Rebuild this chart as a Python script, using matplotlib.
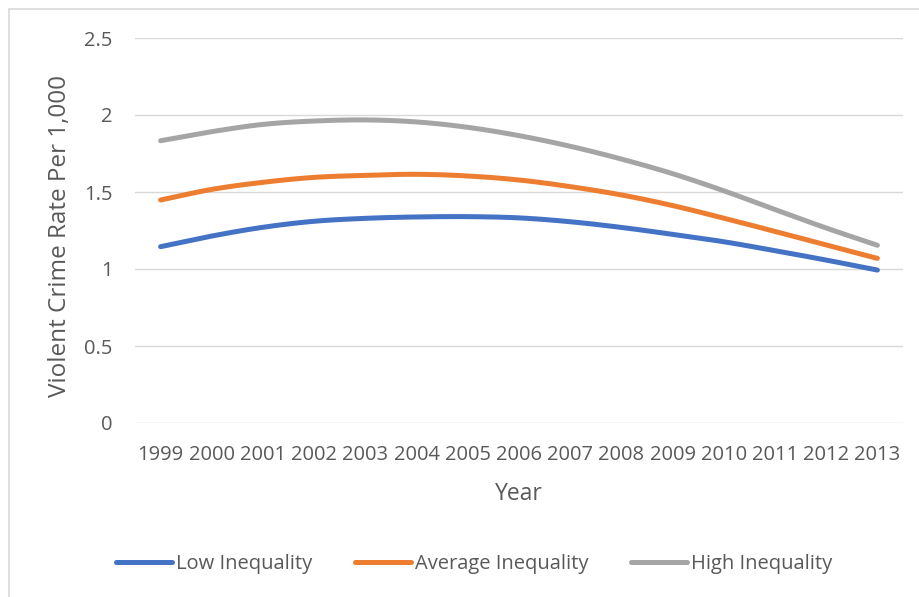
import numpy as np
import matplotlib.pyplot as plt
from matplotlib.patches import Rectangle
from matplotlib.ticker import FuncFormatter

years = [1999, 2000, 2001, 2002, 2003, 2004, 2005, 2006,
         2007, 2008, 2009, 2010, 2011, 2012, 2013]

low_ineq = [1.145, 1.214, 1.271, 1.310, 1.329, 1.338, 1.340, 1.332,
            1.307, 1.270, 1.225, 1.177, 1.119, 1.058, 0.993]
avg_ineq = [1.448, 1.517, 1.563, 1.595, 1.608, 1.615, 1.604, 1.578,
            1.535, 1.481, 1.412, 1.330, 1.244, 1.156, 1.069]
high_ineq = [1.833, 1.892, 1.939, 1.961, 1.968, 1.955, 1.920, 1.866,
             1.797, 1.714, 1.619, 1.508, 1.386, 1.266, 1.154]

series = [
    ("Low Inequality", low_ineq, "#4472C4"),
    ("Average Inequality", avg_ineq, "#ED7D31"),
    ("High Inequality", high_ineq, "#A5A5A5"),
]

TEXT = "#595959"
GRID = "#D9D9D9"
plt.rcParams["font.family"] = ["Open Sans", "DejaVu Sans"]


def smooth(x, y, steps=16):
    # Catmull-Rom curve through the points (same look as a smoothed office line)
    x = np.asarray(x, float)
    y = np.asarray(y, float)
    px = np.concatenate([[2 * x[0] - x[1]], x, [2 * x[-1] - x[-2]]])
    py = np.concatenate([[2 * y[0] - y[1]], y, [2 * y[-1] - y[-2]]])
    t = np.linspace(0, 1, steps, endpoint=False)
    xs, ys = [], []
    for i in range(1, len(px) - 2):
        for p, out in ((px, xs), (py, ys)):
            p0, p1, p2, p3 = p[i - 1], p[i], p[i + 1], p[i + 2]
            out.extend(0.5 * (2 * p1 + (-p0 + p2) * t
                              + (2 * p0 - 5 * p1 + 4 * p2 - p3) * t ** 2
                              + (-p0 + 3 * p1 - 3 * p2 + p3) * t ** 3))
    xs.append(x[-1])
    ys.append(y[-1])
    return np.array(xs), np.array(ys)


fig = plt.figure(figsize=(9.19, 5.97), dpi=100)
ax = fig.add_axes([135 / 919, 1 - 423 / 597, 768 / 919, 385 / 597])

idx = np.arange(len(years))
for name, vals, color in series:
    sx, sy = smooth(idx, vals)
    ax.plot(sx, sy, color=color, lw=3.6, solid_capstyle="round", label=name)

ax.set_xlim(-0.5, len(years) - 0.5)
ax.set_ylim(0, 2.5)
ax.set_yticks(np.arange(0, 2.51, 0.5))
ax.yaxis.set_major_formatter(FuncFormatter(lambda v, _: f"{v:g}"))
ax.set_xticks(idx)
ax.set_xticklabels([str(y) for y in years])
ax.grid(axis="y", color=GRID, lw=1.0)
ax.set_axisbelow(True)
for s in ax.spines.values():
    s.set_visible(False)
ax.tick_params(length=0, labelsize=14.5, colors=TEXT)
ax.tick_params(axis="y", pad=16)
ax.tick_params(axis="x", pad=16)

ax.set_ylabel("Violent Crime Rate Per 1,000", fontsize=17.5, color=TEXT)
ax.yaxis.set_label_coords(-0.082, 0.486)
ax.set_xlabel("Year", fontsize=16.5, color=TEXT)
ax.xaxis.set_label_coords(0.5, -0.152)

fig.legend(loc="center", bbox_to_anchor=(0.516, 1 - 564 / 597), ncol=3,
           frameon=False, fontsize=14.5, labelcolor=TEXT, handlelength=2.8,
           handletextpad=0.2, columnspacing=2.1)

# chart area outline
fig.patches.append(Rectangle((9 / 919, -0.1), 1.2, 1.1 - 9 / 597,
                             transform=fig.transFigure, fill=False,
                             edgecolor=GRID, lw=1.2))

fig.savefig("out.png", dpi=100)
